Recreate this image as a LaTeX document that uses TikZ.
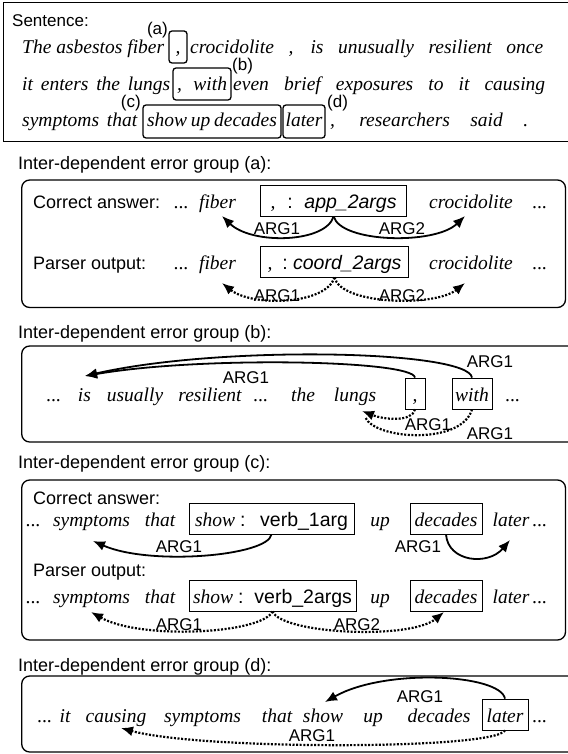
\documentclass[tikz,border=0pt]{standalone}
\usepackage{fontspec}
\setmainfont{Liberation Serif}
\setsansfont{Liberation Sans}
\usetikzlibrary{arrows.meta}

\newcommand\wordfont{\fontsize{19.5}{23}\selectfont\itshape}
\newcommand\labfont{\fontsize{18}{21}\selectfont\sffamily}
\newcommand\argfont{\fontsize{17}{20}\selectfont\sffamily}

\begin{document}
\begin{tikzpicture}[x=1pt,y=-1pt,
  word/.style={font=\wordfont, inner sep=0pt, anchor=base},
  lab/.style={font=\labfont, inner sep=0pt},
  arglab/.style={font=\argfont, inner sep=0pt},
  tok/.style={draw, line width=0.8pt, inner sep=0pt, text height=23pt, text depth=8pt, anchor=base, font=\wordfont},
  rtok/.style={draw, line width=1.3pt, rounded corners=3pt, inner sep=0pt, anchor=base, font=\wordfont},
  grpframe/.style={draw, line width=1.3pt, rounded corners=8pt},
  rel/.style={line width=1.8pt, -{Latex[length=12pt,width=10pt]}},
  drel/.style={rel, line width=2.2pt, dash pattern=on 2pt off 1.6pt},
]
\useasboundingbox (0,0) rectangle (567,754);

% ---------------- the sentence ----------------
\draw[line width=1.4pt] (3.3,2.7) rectangle (600,141.7);
\node[lab, font=\fontsize{17}{20}\selectfont\sffamily, anchor=base west] (sentlbl) at (12,26.5) {Sentence:};

\node[word, anchor=base west] (s1a) at (22,54) {\makebox[142pt][s]{The asbestos fiber}};
\node[rtok, minimum width=18pt, text height=23pt, text depth=9pt] (ka) at (178,54) {,};
\node[arglab, anchor=east] (la) at (168,30) {(a)};
\node[word, anchor=base west] (s1b) at (190,54) {\makebox[353pt][s]{crocidolite , is unusually resilient once}};

\node[word, anchor=base west] (s2a) at (22,90.5) {\makebox[148pt][s]{it enters the lungs}};
\node[rtok, minimum width=58pt, text height=22.5pt, text depth=9.5pt] (kb) at (202,90.5) {\makebox[50pt][s]{, with}};
\node[arglab, anchor=west] (lb) at (232,66.5) {(b)};
\node[word, anchor=base west] (s2b) at (233,90.5) {\makebox[312pt][s]{even brief exposures to it causing}};

\node[word, anchor=base west] (s3a) at (22,127) {\makebox[115pt][s]{symptoms that}};
\node[arglab, anchor=east] (lc) at (141,103) {(c)};
\node[rtok, minimum width=138pt, text height=22pt, text depth=11pt] (kc) at (212,127) {\makebox[130pt][s]{show up decades}};
\node[rtok, minimum width=42pt, text height=22pt, text depth=11pt] (kd) at (304,127) {later};
\node[arglab, anchor=west] (ld) at (327,103) {(d)};
\node[word, anchor=base west] (s3b) at (330,127) {\makebox[198pt][s]{, researchers said .}};

% ---------------- group (a) ----------------
\node[lab, anchor=base west] (ta) at (18,169) {Inter-dependent error group (a):};
\draw[grpframe] (21.7,180) rectangle (565.5,307.5);

\node[lab, anchor=base west] (ca1) at (33,208) {Correct answer:};
\node[word] (ca1d) at (181.5,208) {...};
\node[word] (ca1f) at (217.5,208) {fiber};
\node[tok, minimum width=146pt] (ca1k) at (333.6,208)
  {\makebox[126pt]{,\hspace{12pt}{\sffamily\upshape:}\hfill{\sffamily\itshape app\_2args}}};
\node[word] (ca1c) at (471,208) {crocidolite};
\node[word] (ca1e) at (540,208) {...};

\coordinate (ta1) at (222,216);
\coordinate (ta2) at (465,216);
\draw[rel] (ca1k.south) .. controls (326,243) and (252,245) .. (ta1);
\draw[rel] (ca1k.south) .. controls (341,243) and (435,245) .. (ta2);
\node[arglab] (aa1) at (277,229) {ARG1};
\node[arglab] (aa2) at (402,229) {ARG2};

\node[lab, anchor=base west] (pa1) at (33,269) {Parser output:};
\node[word] (pa1d) at (181.5,269) {...};
\node[word] (pa1f) at (217.5,269) {fiber};
\node[tok, minimum width=148pt] (pa1k) at (334.5,269)
  {\makebox[134pt]{,\hspace{10pt}{\sffamily\upshape:}\hfill{\sffamily\itshape coord\_2args}}};
\node[word] (pa1c) at (471,269) {crocidolite};
\node[word] (pa1e) at (540,269) {...};

\coordinate (tp1) at (222,283);
\coordinate (tp2) at (465,283);
\draw[drel] (pa1k.south) .. controls (326,305) and (252,307) .. (tp1);
\draw[drel] (pa1k.south) .. controls (341,305) and (435,307) .. (tp2);
\node[arglab] (pa1) at (277,296) {ARG1};
\node[arglab] (pa2) at (402,296) {ARG2};

% ---------------- group (b) ----------------
\node[lab, anchor=base west] (tb) at (18,338) {Inter-dependent error group (b):};
\draw[grpframe] (21.7,346) rectangle (600,442);

\node[word] (bd1) at (54,401) {...};
\node[word] (bis) at (84.5,401) {is};
\node[word] (busu) at (135,401) {usually};
\node[word] (bres) at (210,401) {resilient};
\node[word] (bd2) at (261,401) {...};
\node[word] (bthe) at (303,401) {the};
\node[word] (blungs) at (355,401) {lungs};
\node[tok, minimum width=20pt] (bcomma) at (415,401) {,};
\node[tok, minimum width=40pt] (bwith) at (472,401) {with};
\node[word] (bd3) at (513,401) {...};

\coordinate (tbs) at (85,376);
\draw[rel] (bcomma.north) .. controls (413,360) and (200,356) .. (tbs);
\draw[rel] (bwith.north) .. controls (468,350) and (220,345) .. (tbs);
\node[arglab] (ba1) at (490,362) {ARG1};
\node[arglab] (ba2) at (246,378) {ARG1};

\coordinate (tbd) at (362,411);
\coordinate (tbd2) at (365,417);
\draw[drel] (bcomma.south) .. controls (412,422) and (385,420) .. (tbd);
\draw[drel, -] (bwith.south) .. controls (462,445) and (375,440) .. (tbd2);
\node[arglab] (ba3) at (428,425) {ARG1};
\node[arglab] (ba4) at (490,434) {ARG1};

% ---------------- group (c) ----------------
\node[lab, anchor=base west] (tc) at (18,468) {Inter-dependent error group (c):};
\draw[grpframe] (21.7,480) rectangle (565.5,640);

\node[lab, anchor=base west] (cca) at (33,504) {Correct answer:};
\node[word] (cad1) at (33.5,526) {...};
\node[word] (casym) at (91.6,526) {symptoms};
\node[word] (cathat) at (160,526) {that};
\node[tok, minimum width=165pt] (cak) at (271.5,526)
  {\makebox[153pt]{show\hspace{5pt}{\sffamily\upshape:}\hfill{\sffamily\upshape verb\_1arg}}};
\node[word] (caup) at (380,526) {up};
\node[tok, minimum width=72pt] (cadec) at (446,526) {decades};
\node[word] (calater) at (511,526) {later};
\node[word] (cad2) at (540,526) {...};

\coordinate (tc1) at (93,541);
\coordinate (tc2) at (510,540);
\draw[rel] (cak.south) .. controls (268,556) and (150,566) .. (tc1);
\draw[rel] (cadec.south) .. controls (448,562) and (488,566) .. (tc2);
\node[arglab] (ca1l) at (179,547) {ARG1};
\node[arglab] (ca2l) at (418,547) {ARG1};

\node[lab, anchor=base west] (cpo) at (33,576) {Parser output:};
\node[word] (cpd1) at (33.5,603) {...};
\node[word] (cpsym) at (91.6,603) {symptoms};
\node[word] (cpthat) at (160,603) {that};
\node[tok, minimum width=167pt] (cpk) at (272.5,603)
  {\makebox[159pt]{show\hspace{5pt}{\sffamily\upshape:}\hfill{\sffamily\upshape verb\_2args}}};
\node[word] (cpup) at (380,603) {up};
\node[tok, minimum width=72pt] (cpdec) at (446,603) {decades};
\node[word] (cplater) at (511,603) {later};
\node[word] (cpd2) at (540,603) {...};

\coordinate (tc3) at (91,612);
\coordinate (tc4) at (444,612);
\draw[drel] (cpk.south) .. controls (262,634) and (140,640) .. (tc3);
\draw[drel] (cpk.south) .. controls (282,634) and (410,640) .. (tc4);
\node[arglab] (cp1l) at (179,625) {ARG1};
\node[arglab] (cp2l) at (357,625) {ARG2};

% ---------------- group (d) ----------------
\node[lab, anchor=base west] (td) at (18,671) {Inter-dependent error group (d):};
\draw[grpframe] (21.7,676) rectangle (600,752);

\node[word] (dd1) at (45,722) {...};
\node[word] (dit) at (65,722) {it};
\node[word] (dcaus) at (116,722) {causing};
\node[word] (dsym) at (202.5,722) {symptoms};
\node[word] (dthat) at (277,722) {that};
\node[word] (dshow) at (323,722) {show};
\node[word] (dup) at (373,722) {up};
\node[word] (ddec) at (439,722) {decades};
\node[tok, minimum width=46pt] (dlater) at (505,722) {later};
\node[word] (dd2) at (540,722) {...};

\coordinate (td1) at (325,702);
\coordinate (td2) at (121,728);
\draw[rel] (dlater.north) .. controls (500,674) and (385,668) .. (td1);
\draw[drel] (dlater.south) .. controls (494,750) and (200,750) .. (td2);
\node[arglab] (dl1) at (420,697) {ARG1};
\node[arglab] (dl2) at (312,736) {ARG1};
\end{tikzpicture}
\end{document}
